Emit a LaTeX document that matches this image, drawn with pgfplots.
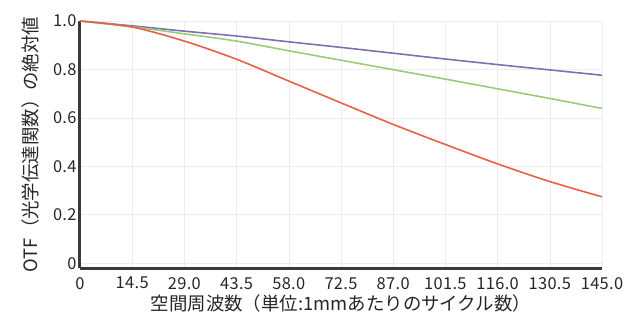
\documentclass[border=0pt]{standalone}
\usepackage{pgfplots}
\pgfplotsset{compat=1.18}
\usepackage{fontspec}
\setmainfont{Noto Sans CJK JP}
\newfontfamily\tickfont[LetterSpace=2]{Noto Sans CJK JP}
\definecolor{cblue}{HTML}{7A72B4}
\definecolor{cgreen}{HTML}{9CCB78}
\definecolor{cred}{HTML}{E8604A}
\definecolor{axgray}{HTML}{3A3A3A}
\begin{document}
\begin{tikzpicture}
\begin{axis}[
  name=ax,
  scale only axis,
  width=522bp, height=247bp,
  xmin=0, xmax=145, ymin=-0.02, ymax=1.0,
  axis x line=bottom, axis y line=left,
  axis line style={-, line width=3bp, color=axgray},
  xtick={0,14.5,29,43.5,58,72.5,87,101.5,116,130.5,145},
  xticklabels={0,14.5,29.0,43.5,58.0,72.5,87.0,101.5,116.0,130.5,145.0},
  ytick={0,0.2,0.4,0.6,0.8,1.0},
  yticklabels={0,0.2,0.4,0.6,0.8,1.0},
  major tick length=0pt,
  grid=major,
  major grid style={color=black!7, line width=0.6bp},
  /pgf/number format/assume math mode=true,
  tick label style={font=\tickfont\fontsize{16.5}{19}\selectfont, color=black!85},
  xticklabel style={inner sep=0pt, yshift=-9bp},
  yticklabel style={xshift=0bp},
  xlabel={空間周波数（単位:1mmあたりのサイクル数）},
  ylabel={OTF（光学伝達関数）の絶対値},
  label style={font=\fontsize{18.5}{22}\selectfont, color=black!85},
  xlabel style={yshift=-2bp},
  ylabel style={yshift=7bp},
  clip=false,
]
\addplot[cblue, line width=1.6bp, smooth] coordinates {
(0,1.000) (14.5,0.980) (29,0.958) (43.5,0.938) (58,0.914) (72.5,0.891) (87,0.867) (101.5,0.843) (116,0.820) (130.5,0.798) (145,0.776)};
\addplot[cgreen, line width=1.6bp, smooth] coordinates {
(0,1.000) (14.5,0.976) (29,0.947) (43.5,0.917) (58,0.877) (72.5,0.838) (87,0.799) (101.5,0.760) (116,0.720) (130.5,0.680) (145,0.639)};
\addplot[cred, line width=1.6bp, smooth] coordinates {
(0,1.000) (14.5,0.975) (29,0.917) (43.5,0.842) (58,0.752) (72.5,0.662) (87,0.573) (101.5,0.490) (116,0.410) (130.5,0.337) (145,0.274)};
\end{axis}
\pgfresetboundingbox
\path (ax.south west) ++(-80bp,-52bp) coordinate (bl);
\path (ax.north east) ++(30bp,21bp) coordinate (tr);
\path[use as bounding box] (bl) rectangle (tr);
\end{tikzpicture}
\end{document}
